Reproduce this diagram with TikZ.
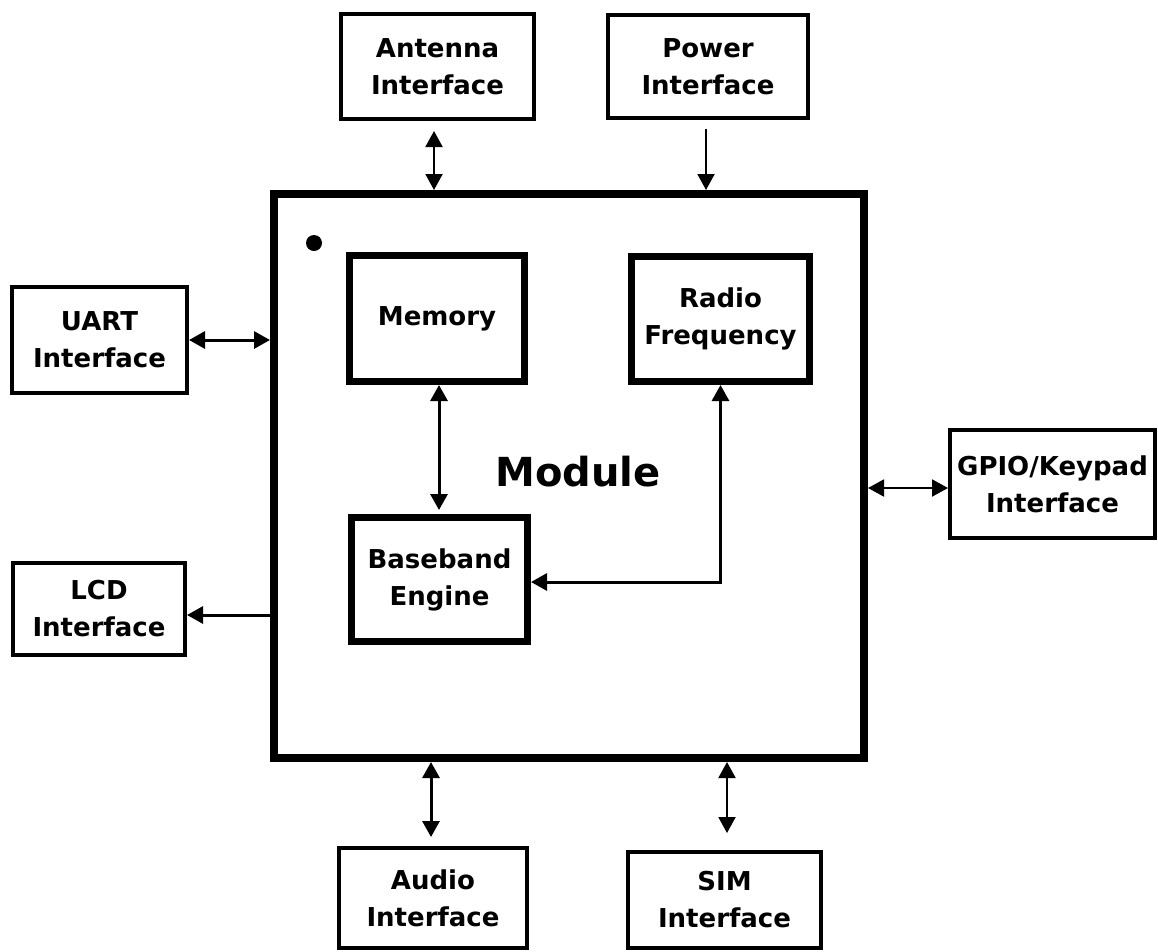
\documentclass[tikz,border=0pt]{standalone}
\usepackage{fontspec}
\setmainfont{DejaVu Sans}
\usetikzlibrary{arrows.meta}
\begin{document}
\begin{tikzpicture}[x=1pt,y=-1pt,
  iface/.style={draw, line width=4pt, inner sep=0pt, align=center, font=\bfseries\fontsize{26}{37}\selectfont},
  unit/.style={draw, line width=7pt, inner sep=0pt, align=center, font=\bfseries\fontsize{26}{37}\selectfont},
  tip/.style={Triangle[length=16pt,width=17pt]},
  conn/.style={line width=3pt, -{Triangle[length=16pt,width=17pt]}},
  biconn/.style={line width=3pt, {Triangle[length=16pt,width=17pt]}-{Triangle[length=16pt,width=17pt]}},
  thinline/.style={line width=2pt}]
\fill[white] (0,0) rectangle (1158,951);
\useasboundingbox (0,0) rectangle (1158,951);

% module
\node[draw, line width=8pt, inner sep=0pt, minimum width=590pt, minimum height=564pt] (module) at (569,476) {};
\node[font=\bfseries\fontsize{40}{48}\selectfont, inner sep=0pt] (modlabel) at (578,472) {Module};
\node[circle, fill, minimum size=16pt, inner sep=0pt] (dot) at (314,243) {};

% inner units
\node[unit, minimum width=175pt, minimum height=126pt] (mem) at (437,318.5) {Memory};
\node[unit, minimum width=178pt, minimum height=125pt] (rf) at (720.5,319) {Radio\\Frequency};
\node[unit, minimum width=176pt, minimum height=124pt] (bb) at (439.5,579.5) {Baseband\\Engine};

% interfaces
\node[iface, minimum width=193pt, minimum height=105pt] (ant) at (437.5,66.5) {Antenna\\Interface};
\node[iface, minimum width=200pt, minimum height=103pt] (pow) at (708,66.5) {Power\\Interface};
\node[iface, minimum width=175pt, minimum height=106pt] (uart) at (99.5,340) {UART\\Interface};
\node[iface, minimum width=172pt, minimum height=92pt] (lcd) at (99,609) {LCD\\Interface};
\node[iface, minimum width=205pt, minimum height=108pt] (gpio) at (1052.5,484) {GPIO/Keypad\\Interface};
\node[iface, minimum width=188pt, minimum height=100pt] (audio) at (433,898) {Audio\\Interface};
\node[iface, minimum width=193pt, minimum height=96pt] (sim) at (724.5,900) {SIM\\Interface};

% connectors
\draw[biconn, thinline, shorten <=10pt] ([xshift=-3.5pt]ant.south) -- ([xshift=-3.5pt]ant.south |- module.north);
\draw[conn, thinline, shorten <=9pt] ([xshift=-2pt]pow.south) -- ([xshift=-2pt]pow.south |- module.north);
\draw[biconn] (uart.east) -- (uart.east -| module.west);
\draw[conn] ([yshift=-6pt]lcd.east -| module.west) -- ([yshift=-6pt]lcd.east);
\draw[biconn, thinline] ([yshift=-4pt]gpio.west -| module.east) -- ([yshift=-4pt]gpio.west);
\draw[biconn, shorten >=9pt] ([xshift=-2pt]audio.north |- module.south) -- ([xshift=-2pt]audio.north);
\draw[biconn, thinline, shorten >=17pt] ([xshift=2.5pt]sim.north |- module.south) -- ([xshift=2.5pt]sim.north);
\draw[biconn, shorten >=4pt] ([xshift=2pt]mem.south) -- ([xshift=2pt]mem.south |- bb.north);
\draw[biconn] (rf.south) |- ([yshift=-2.5pt]bb.east);
\end{tikzpicture}
\end{document}
